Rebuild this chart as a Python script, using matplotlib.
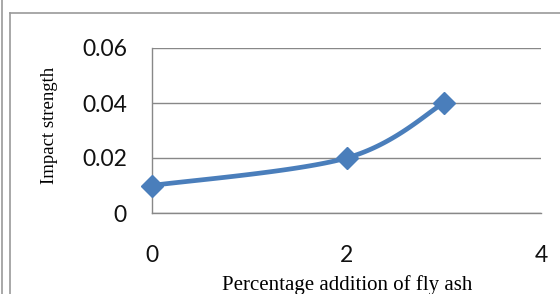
import numpy as np
import matplotlib
matplotlib.use("Agg")
import matplotlib.pyplot as plt
from matplotlib.lines import Line2D

x_vals = [0, 2, 3]
y_vals = [0.01, 0.02, 0.04]
x_ticks = [0, 2, 4]
y_ticks = [0, 0.02, 0.04, 0.06]
y_tick_labels = ["0", "0.02", "0.04", "0.06"]
x_label = "Percentage addition of fly ash"
y_label = "Impact strength"

W, H = 560, 294
fig = plt.figure(figsize=(W / 100, H / 100), dpi=100)
ax = fig.add_axes([152 / W, 1 - 213 / H, (541 - 152) / W, (213 - 48) / H])
ax.set_xlim(0, 4)
ax.set_ylim(0, 0.06)

grid_c = "#888888"
for s in ["top", "right"]:
    ax.spines[s].set_visible(False)
for s in ["left", "bottom"]:
    ax.spines[s].set_color(grid_c)
    ax.spines[s].set_linewidth(1.0)
ax.set_yticks(y_ticks)
ax.set_yticklabels(y_tick_labels)
ax.set_xticks(x_ticks)
ax.yaxis.grid(True, color=grid_c, linewidth=1.0)
ax.tick_params(length=0, labelsize=16.5, colors="#111111")
ax.tick_params(axis="y", pad=18)
ax.tick_params(axis="x", pad=23)
for lab in ax.get_xticklabels() + ax.get_yticklabels():
    lab.set_fontfamily("Lato")
    lab.set_fontweight("normal")

# Smooth curve (Catmull-Rom in display space, like Excel's smoothed line)
fig.canvas.draw()
pts = ax.transData.transform(np.column_stack([x_vals, y_vals]))
P = np.vstack([pts[0], pts, pts[-1]])
curve = []
t = np.linspace(0, 1, 40)
for i in range(1, len(P) - 2):
    p0, p1, p2, p3 = P[i - 1], P[i], P[i + 1], P[i + 2]
    c1 = p1 + (p2 - p0) / 6
    c2 = p2 - (p3 - p1) / 6
    seg = ((1 - t) ** 3)[:, None] * p1 + (3 * (1 - t) ** 2 * t)[:, None] * c1 \
        + (3 * (1 - t) * t ** 2)[:, None] * c2 + (t ** 3)[:, None] * p2
    curve.append(seg)
curve = np.vstack(curve)
cd = ax.transData.inverted().transform(curve)
line_c = "#4A7EBB"
ax.plot(cd[:, 0], cd[:, 1], color=line_c, linewidth=3.4, solid_capstyle="round", clip_on=False)
ax.plot(x_vals, y_vals, linestyle="none", marker="D", markersize=11.5, color=line_c, clip_on=False, zorder=5)

fig.text(50 / W, 1 - 125 / H, y_label, rotation=90, ha="center", va="center",
         fontfamily="Liberation Serif", fontsize=13.5)
fig.text(347 / W, 1 - 290 / H, x_label, ha="center", va="baseline",
         fontfamily="Liberation Serif", fontsize=15)

bc = "#9a9a9a"
fig.add_artist(Line2D([2 / W, 2 / W], [0, 1], color=bc, linewidth=1.2, transform=fig.transFigure))
fig.add_artist(Line2D([10 / W, 10 / W], [0, 1 - 13 / H], color=bc, linewidth=1.2, transform=fig.transFigure))
fig.add_artist(Line2D([10 / W, 1], [1 - 13 / H, 1 - 13 / H], color=bc, linewidth=1.2, transform=fig.transFigure))

fig.savefig("out.png", dpi=100)
